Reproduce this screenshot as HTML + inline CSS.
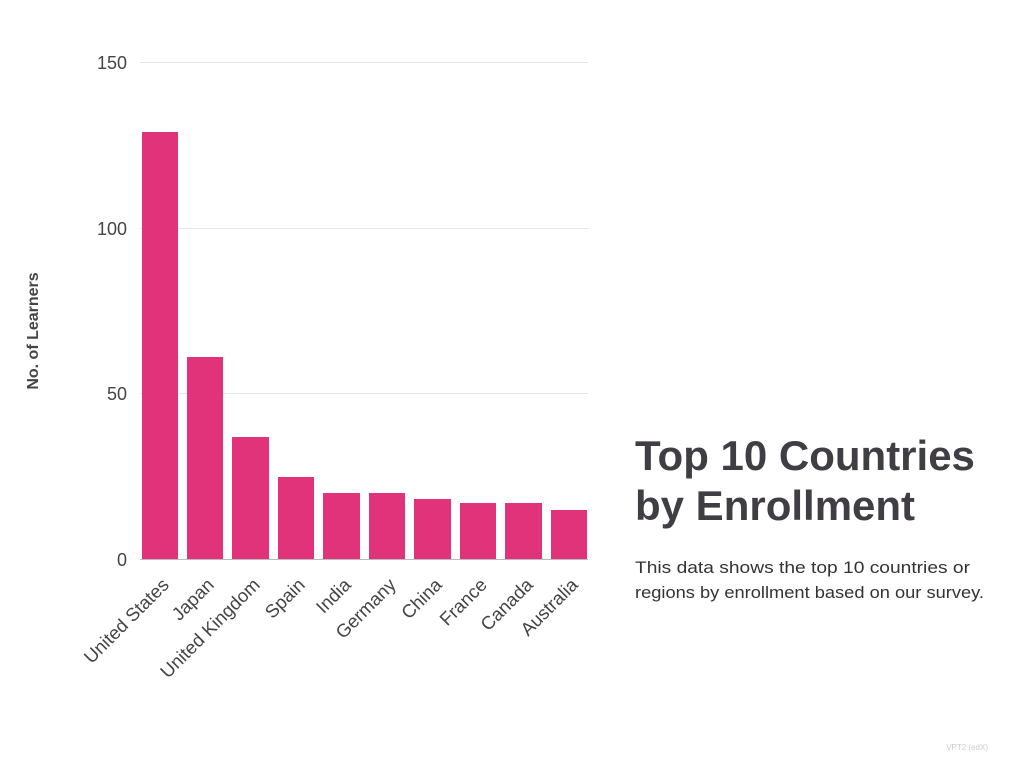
<!DOCTYPE html>
<html><head><meta charset="utf-8"><style>
html,body{margin:0;padding:0;background:#fff;}
svg{display:block;font-family:"Liberation Sans",sans-serif;}
</style></head><body>
<svg width="1024" height="768" viewBox="0 0 1024 768">
<g stroke="#e6e6e6" stroke-width="1">
<line x1="140" y1="62.5" x2="588" y2="62.5"/>
<line x1="140" y1="228.5" x2="588" y2="228.5"/>
<line x1="140" y1="393.5" x2="588" y2="393.5"/>
</g>
<g fill="#444" font-size="18" text-anchor="end">
<text x="127" y="69">150</text>
<text x="127" y="235">100</text>
<text x="127" y="400">50</text>
<text x="127" y="566">0</text>
</g>
<text transform="translate(38,331) rotate(-90)" text-anchor="middle" font-size="16" font-weight="bold" fill="#444">No. of Learners</text>
<g fill="#e0337a">
<rect x="142" y="132" width="36" height="427"/>
<rect x="187" y="357" width="36" height="202"/>
<rect x="232" y="437" width="37" height="122"/>
<rect x="278" y="477" width="36" height="82"/>
<rect x="323" y="493" width="37" height="66"/>
<rect x="369" y="493" width="36" height="66"/>
<rect x="414" y="499" width="37" height="60"/>
<rect x="460" y="503" width="36" height="56"/>
<rect x="505" y="503" width="37" height="56"/>
<rect x="551" y="510" width="36" height="49"/>
</g>
<line x1="140" y1="559.5" x2="588" y2="559.5" stroke="#bbb" stroke-width="1"/>
<g fill="#444" font-size="18.5" text-anchor="end">
<text transform="translate(170,586) rotate(-45)">United States</text>
<text transform="translate(215,586) rotate(-45)">Japan</text>
<text transform="translate(261,586) rotate(-45)">United Kingdom</text>
<text transform="translate(306,586) rotate(-45)">Spain</text>
<text transform="translate(352,586) rotate(-45)">India</text>
<text transform="translate(397,586) rotate(-45)">Germany</text>
<text transform="translate(443,586) rotate(-45)">China</text>
<text transform="translate(488,586) rotate(-45)">France</text>
<text transform="translate(534,586) rotate(-45)">Canada</text>
<text transform="translate(579,586) rotate(-45)">Australia</text>
</g>
<g fill="#403d44" font-size="42" font-weight="bold">
<text x="635" y="470">Top 10 Countries</text>
<text x="635" y="520">by Enrollment</text>
</g>
<g fill="#333" font-size="17">
<text x="635" y="573" textLength="335" lengthAdjust="spacingAndGlyphs">This data shows the top 10 countries or</text>
<text x="635" y="598" textLength="349" lengthAdjust="spacingAndGlyphs">regions by enrollment based on our survey.</text>
</g>
<text x="988" y="750" text-anchor="end" font-size="8" fill="#ccc">VPT2 (edX)</text>
</svg>
</body></html>
